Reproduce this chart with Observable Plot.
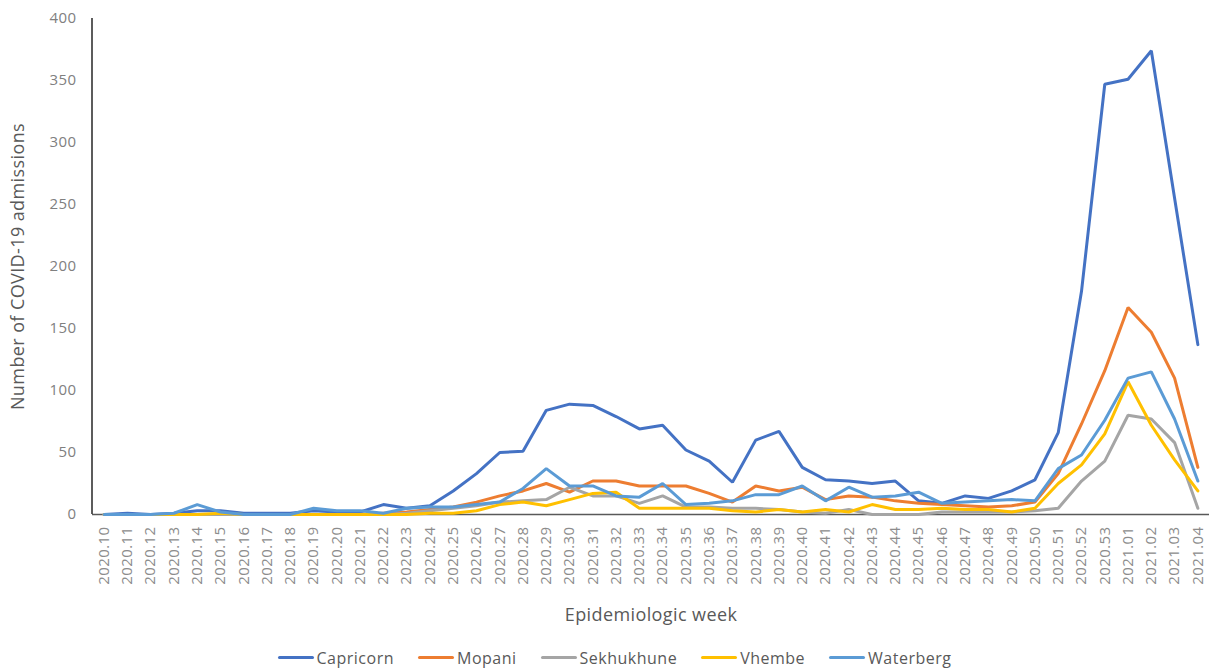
<!DOCTYPE html>
<html>
<head>
<meta charset="utf-8">
<script src="https://cdn.jsdelivr.net/npm/d3@7"></script>
<script src="https://cdn.jsdelivr.net/npm/@observablehq/plot@0.6"></script>
<style>
  html, body { margin: 0; padding: 0; background: #fff; }
  body { width: 1209px; height: 671px; overflow: hidden; font-family: "Open Sans", sans-serif; }
  #legend { display: flex; justify-content: center; align-items: center; height: 31px; gap: 24px; color: #595959; font-size: 16px; letter-spacing: 0.5px; padding-left: 20px; margin-top: 2px; }
  .item { display: flex; align-items: center; gap: 3px; }
  .sw { width: 36px; height: 3px; border-radius: 2px; }
</style>
</head>
<body>
<div id="chart"></div>
<div id="legend"></div>
<script>
const weeks = ["2020.10","2020.11","2020.12","2020.13","2020.14","2020.15","2020.16","2020.17","2020.18","2020.19",
  "2020.20","2020.21","2020.22","2020.23","2020.24","2020.25","2020.26","2020.27","2020.28","2020.29",
  "2020.30","2020.31","2020.32","2020.33","2020.34","2020.35","2020.36","2020.37","2020.38","2020.39",
  "2020.40","2020.41","2020.42","2020.43","2020.44","2020.45","2020.46","2020.47","2020.48","2020.49",
  "2020.50","2020.51","2020.52","2020.53","2021.01","2021.02","2021.03","2021.04"];

const capricorn  = [0,1,0,1,3,3,1,1,1,3,2,2,8,5,7,19,33,50,51,84,89,88,79,69,72,52,43,26,60,67,38,28,27,25,27,11,9,15,13,19,28,66,180,347,351,374,255,137];
const mopani     = [0,0,0,0,0,0,0,0,0,0,0,0,1,2,4,6,10,15,19,25,18,27,27,23,23,23,17,10,23,19,22,12,15,14,11,9,8,7,6,7,10,33,73,116,167,147,110,38];
const sekhukhune = [0,0,0,0,0,0,0,0,0,0,0,0,0,1,3,5,7,10,11,12,22,15,15,9,15,6,6,5,5,4,2,1,4,0,0,0,2,2,2,2,3,5,27,43,80,77,58,5];
const vhembe     = [0,0,0,0,0,1,0,0,0,0,0,0,0,0,1,1,3,8,10,7,12,17,18,5,5,5,5,3,2,4,2,4,2,8,4,4,5,4,4,2,5,25,40,65,107,72,44,19];
const waterberg  = [0,0,0,1,8,2,0,0,0,5,3,3,1,5,6,6,8,10,21,37,23,23,15,14,25,8,9,11,16,16,23,11,22,14,15,18,9,10,11,12,11,37,48,76,110,115,77,27];

const seriesNames = ["Capricorn","Mopani","Sekhukhune","Vhembe","Waterberg"];
const seriesValues = [capricorn, mopani, sekhukhune, vhembe, waterberg];
const colors = ["#4472C4","#ED7D31","#A5A5A5","#FFC000","#5B9BD5"];
const yTicks = [0,50,100,150,200,250,300,350,400];

const rows = [];
seriesNames.forEach((name, s) => {
  seriesValues[s].forEach((v, i) => rows.push({series: name, week: weeks[i], value: v}));
});

const plot = Plot.plot({
  width: 1209,
  height: 640,
  marginLeft: 92,
  marginRight: 0,
  marginTop: 18,
  marginBottom: 126,
  style: {fontFamily: "Open Sans, sans-serif", fontSize: "14px", color: "#7f7f7f", background: "#fff"},
  x: {type: "point", domain: weeks, padding: 0.5, round: false, label: null},
  y: {domain: [0, 400], label: null},
  color: {domain: seriesNames, range: colors},
  marks: [
    Plot.axisY({ticks: yTicks, tickSize: 0, tickPadding: 16, fontSize: 15, fill: "#808080", label: null}),
    Plot.axisX({tickSize: 0, tickRotate: -90, tickPadding: 12, fontSize: 15, fill: "#8c8c8c", label: null}),
    Plot.ruleY([0], {stroke: "#595959", strokeWidth: 1.5}),
    Plot.lineY(rows, {x: "week", y: "value", z: "series", stroke: "series", strokeWidth: 3, strokeLinejoin: "miter"}),
    Plot.text(["Epidemiologic week"], {frameAnchor: "bottom", dy: 106, fontSize: 18, fill: "#595959", textAnchor: "middle"}),
    Plot.text(["Number of COVID-19 admissions"], {frameAnchor: "left", rotate: -90, dx: -74, fontSize: 18, fill: "#595959", textAnchor: "middle"})
  ]
});

// y-axis line at the left edge of the plotting area, from the plot's own scales
const xr = plot.scale("x").range;
const ys = plot.scale("y");
d3.select(plot).append("line")
  .attr("x1", xr[0]).attr("x2", xr[0])
  .attr("y1", ys.apply(400)).attr("y2", ys.apply(0))
  .attr("stroke", "#262626").attr("stroke-width", 1.5);
d3.select(plot).selectAll("text").style("letter-spacing", "0.4px");

document.getElementById("chart").append(plot);

const legend = d3.select("#legend");
seriesNames.forEach((name, i) => {
  const it = legend.append("div").attr("class", "item");
  it.append("div").attr("class", "sw").style("background", colors[i]);
  it.append("span").text(name);
});
</script>
</body>
</html>
